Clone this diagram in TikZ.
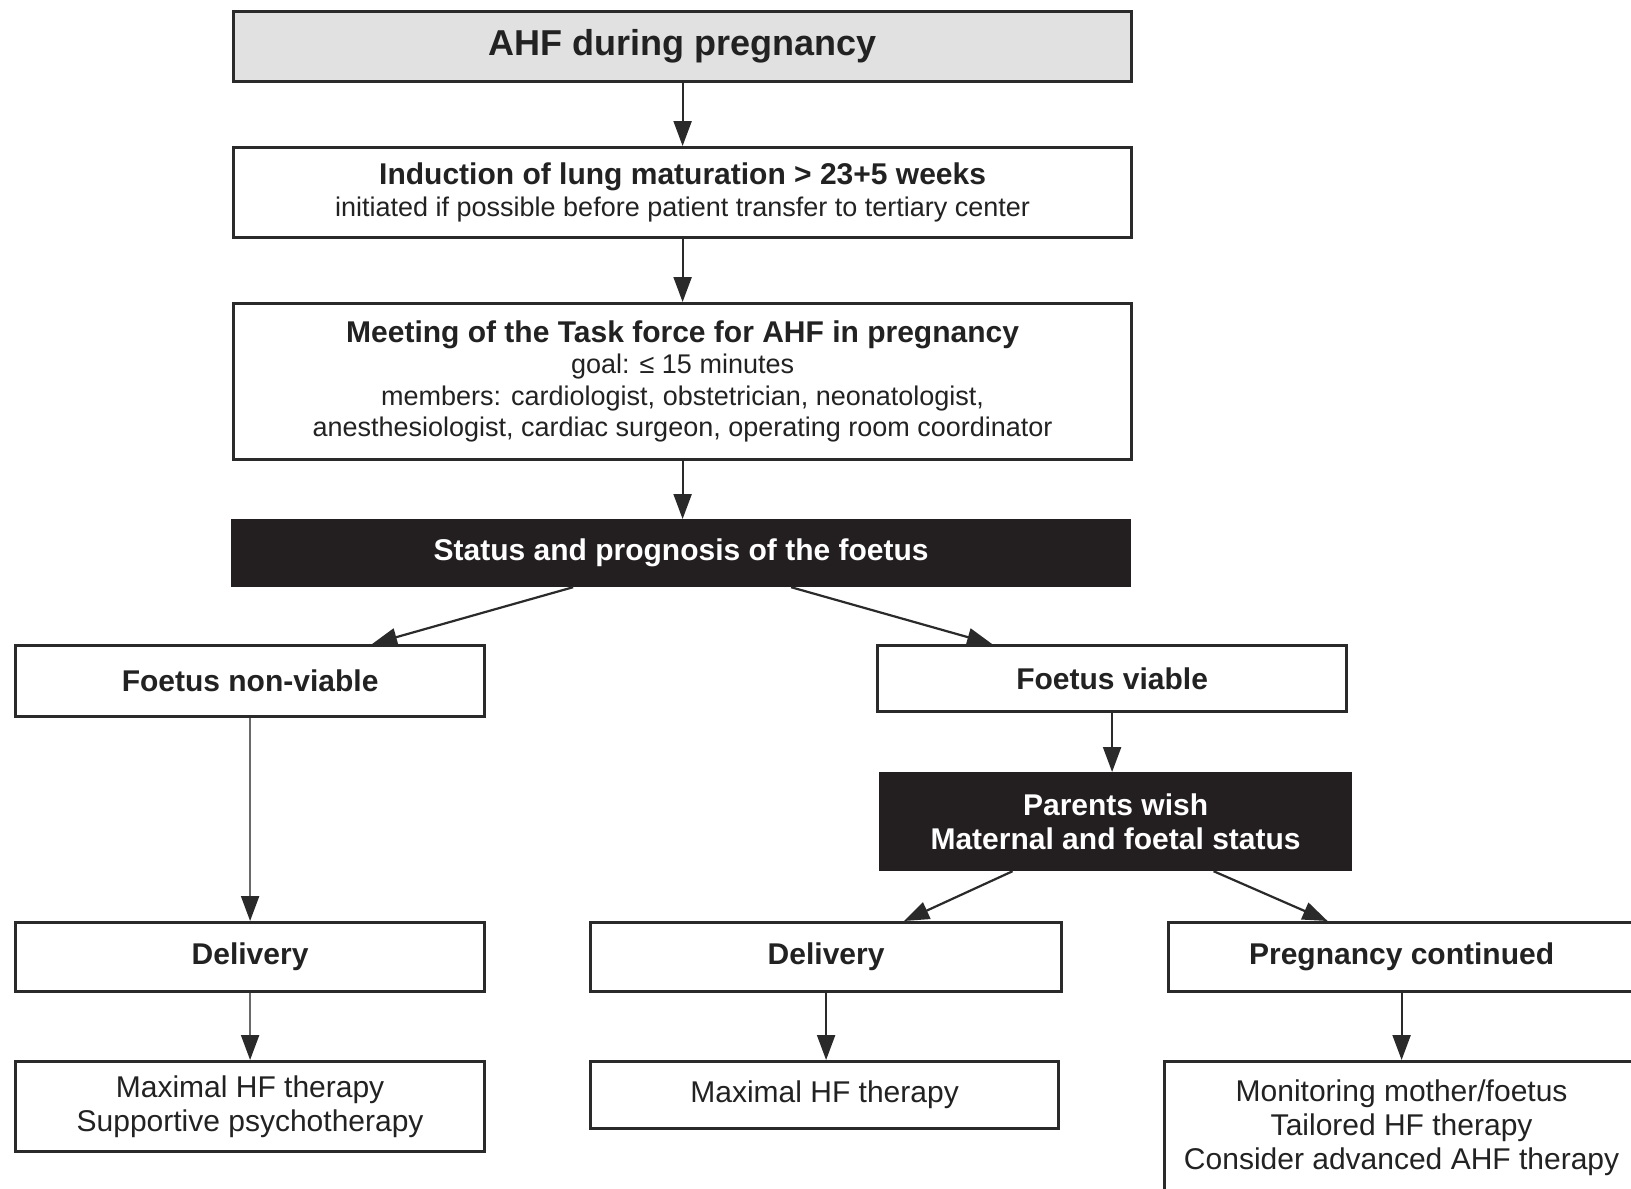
\documentclass[tikz,border=0pt]{standalone}
\usepackage{fontspec}
\setmainfont{Liberation Sans}
\usetikzlibrary{arrows.meta}
\definecolor{boxgray}{HTML}{E1E1E1}
\definecolor{boxblack}{HTML}{231F20}
\definecolor{txt}{HTML}{222222}
\definecolor{txtreg}{HTML}{3A3A3A}
\definecolor{lin}{HTML}{2A2A2A}
\definecolor{lingray}{HTML}{6A6A6A}
\newcommand\ahfB{\fontsize{30}{31.5}\selectfont\bfseries}
\newcommand\ahfR{\fontsize{27}{31.5}\selectfont\color{txtreg}}
\newcommand\ahfL{\fontsize{30}{34}\selectfont\color{txtreg}}
\begin{document}
\begin{tikzpicture}[x=1pt,y=-1pt,
  box/.style={draw=lin, line width=3.2pt, fill=white, rectangle, inner sep=0pt,
    text=txt, align=center, anchor=north west},
  darkbox/.style={box, draw=boxblack, fill=boxblack, text=white},
  arr/.style={draw=lin, line width=2.2pt, -{Triangle[length=25pt,width=18pt]}},
  arrg/.style={arr, draw=lingray, -{Triangle[length=25pt,width=18pt,color=lin]}}]
\useasboundingbox (0,0) rectangle (1631,1189);
\clip (0,0) rectangle (1631,1189);
\fill[white] (0,0) rectangle (1631,1189);

\node[box, fill=boxgray, minimum width=898pt, minimum height=70pt,
  font=\fontsize{36}{40}\selectfont\bfseries] (n1) at (232,10) {AHF during pregnancy};
\node[box, minimum width=898pt, minimum height=90pt, font=\ahfR] (n2) at (232,146)
  {{\ahfB\color{txt}Induction of lung maturation > 23+5 weeks}\\
   initiated if possible before patient transfer to tertiary center};
\node[box, minimum width=898pt, minimum height=156pt, font=\ahfR] (n3) at (232,302)
  {{\ahfB\color{txt}Meeting of the Task force for AHF in pregnancy}\\
   goal: ≤ 15 minutes\\
   members: cardiologist, obstetrician, neonatologist,\\
   anesthesiologist, cardiac surgeon, operating room coordinator};
\node[darkbox, minimum width=897pt, minimum height=65pt, font=\ahfB] (n4) at (231,519)
  {Status and prognosis of the foetus};
\node[box, minimum width=469pt, minimum height=71pt, font=\ahfB] (n5) at (14,644)
  {Foetus non-viable};
\node[box, minimum width=469pt, minimum height=66pt, font=\ahfB] (n6) at (876,644)
  {Foetus viable};
\node[darkbox, minimum width=470pt, minimum height=96pt,
  font=\fontsize{30}{34}\selectfont\bfseries] (n7) at (879,772)
  {Parents wish\\Maternal and foetal status};
\node[box, minimum width=469pt, minimum height=69pt, font=\ahfB] (n8) at (14,921)
  {Delivery};
\node[box, minimum width=471pt, minimum height=69pt, font=\ahfB] (n9) at (589,921)
  {Delivery};
\node[box, minimum width=466pt, minimum height=69pt, font=\ahfB] (n10) at (1167,921)
  {Pregnancy continued};
\node[box, minimum width=469pt, minimum height=90pt, font=\ahfL] (n11) at (14,1060)
  {Maximal HF therapy\\Supportive psychotherapy};
\node[box, minimum width=468pt, minimum height=67pt, font=\ahfL] (n12) at (589,1060)
  {Maximal HF therapy};
\node[box, minimum width=474pt, minimum height=132pt, font=\ahfL] (n13) at (1163,1060)
  {Monitoring mother/foetus\\Tailored HF therapy\\Consider advanced AHF therapy};

\draw[arr] (n1.south) -- (n2.north -| n1.south);
\draw[arr] (n2.south) -- (n3.north -| n2.south);
\draw[arr] (n3.south) -- (n4.north -| n3.south);
\draw[arr] ([xshift=-108pt]n4.south) -- ([xshift=122pt]n5.north);
\draw[arr] ([xshift=110pt]n4.south) -- ([xshift=-120pt]n6.north);
\draw[arr] (n6.south) -- (n7.north -| n6.south);
\draw[arrg] (n5.south) -- (n8.north -| n5.south);
\draw[arr] ([xshift=-103pt]n7.south) -- ([xshift=78pt]n9.north);
\draw[arr] ([xshift=98pt]n7.south) -- ([xshift=-74pt]n10.north);
\draw[arrg] (n8.south) -- (n11.north -| n8.south);
\draw[arr] (n9.south) -- (n12.north -| n9.south);
\draw[arr] (n10.south) -- (n13.north -| n10.south);
\end{tikzpicture}
\end{document}
